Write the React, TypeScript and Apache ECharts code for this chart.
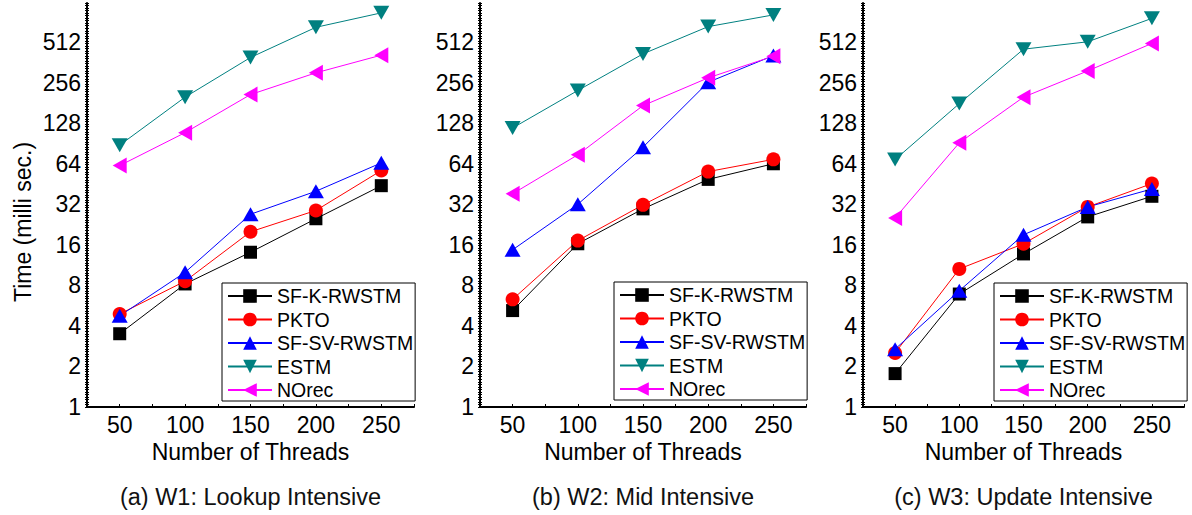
import React, { useEffect, useRef } from "react";
import * as echarts from "echarts";

// Thread counts on the x axis
const threads = [50, 100, 150, 200, 250];
const seriesNames = ["SF-K-RWSTM", "PKTO", "SF-SV-RWSTM", "ESTM", "NOrec"];
const xTicks = [50, 100, 150, 200, 250];
const yTickLabels = [1, 2, 4, 8, 16, 32, 64, 128, 256, 512];

// W1: Lookup Intensive (milli sec.)
const w1SfK = [3.5, 8.2, 14.1, 25, 44];
const w1Pkto = [4.9, 8.6, 20, 28.8, 57];
const w1SfSv = [4.75, 10, 27, 40, 65];
const w1Estm = [88, 200, 394, 660, 845];
const w1NOrec = [62, 109, 209, 303, 410];

// W2: Mid Intensive
const w2SfK = [5.2, 16.3, 29.6, 49, 64];
const w2Pkto = [6.3, 17.2, 31.7, 56, 69];
const w2SfSv = [14.7, 32, 85, 258, 407];
const w2Estm = [118, 224, 419, 668, 816];
const w2NOrec = [38.3, 74.6, 173, 278, 403];

// W3: Update Intensive
const w3SfK = [1.77, 6.9, 13.7, 25.8, 36.7];
const w3Pkto = [2.52, 10.6, 16.3, 30.6, 45.6];
const w3SfSv = [2.69, 7.3, 19, 30.6, 41.6];
const w3Estm = [68.8, 179, 454, 515, 769];
const w3NOrec = [25.3, 91.6, 200, 313, 501];

const panels = [
  [w1SfK, w1Pkto, w1SfSv, w1Estm, w1NOrec],
  [w2SfK, w2Pkto, w2SfSv, w2Estm, w2NOrec],
  [w3SfK, w3Pkto, w3SfSv, w3Estm, w3NOrec],
];
const captions = [
  "(a) W1: Lookup Intensive",
  "(b) W2: Mid Intensive",
  "(c) W3: Update Intensive",
];
const xTitle = "Number of Threads";
const yTitle = "Time (milli sec.)";

const FONT = "'Liberation Sans', Arial, Helvetica, sans-serif";

const markerStyles = [
  { color: "#000000", symbol: "rect", size: 13 },
  { color: "#ff0000", symbol: "circle", size: 14 },
  { color: "#0000ff", symbol: "triangle", size: [16, 14] },
  { color: "#008080", symbol: "path://M0,0L10,0L5,10Z", size: [16, 14] },
  { color: "#ff00ff", symbol: "path://M10,0L10,10L0,5Z", size: [14, 16] },
];

const grids = [
  { left: 87, top: 3, width: 327, height: 404 },
  { left: 480, top: 3, width: 326, height: 404 },
  { left: 863, top: 3, width: 321, height: 404 },
];
const legendPos = [
  { left: 222, top: 283 },
  { left: 614, top: 282 },
  { left: 994, top: 283 },
];

function isShownPow(v: number) {
  return yTickLabels.some((t) => Math.abs(t - v) < 1e-6);
}

function buildOption() {
  const xAxis: any[] = [];
  const yAxis: any[] = [];
  const series: any[] = [];
  const legend: any[] = [];
  const graphic: any[] = [];

  grids.forEach((g, p) => {
    xAxis.push({
      type: "value",
      gridIndex: p,
      min: 25,
      max: 275,
      interval: 25,
      axisLine: { lineStyle: { color: "#000", width: 2 } },
      axisTick: { inside: true, length: 3, lineStyle: { color: "#000", width: 1 } },
      axisLabel: {
        margin: 6,
        fontSize: 23,
        fontFamily: FONT,
        color: "#000",
        formatter: (v: number) => (xTicks.includes(v) ? String(v) : ""),
      },
      splitLine: { show: false },
      name: xTitle,
      nameLocation: "middle",
      nameGap: 31,
      nameTextStyle: { fontSize: 23, fontFamily: FONT, color: "#000" },
    });
    // main log2 axis
    yAxis.push({
      type: "log",
      logBase: 2,
      gridIndex: p,
      min: 1,
      max: 1000,
      splitNumber: 10,
      axisLine: { show: true, lineStyle: { color: "#000", width: 2 } },
      axisTick: { show: false },
      axisLabel: {
        margin: 6,
        fontSize: 23,
        fontFamily: FONT,
        color: "#000",
        formatter: (v: number) => (isShownPow(v) ? String(Math.round(v)) : ""),
      },
      splitLine: { show: false },
    });
    // fine tick ruler along the y axis (outer and inner side)
    [false, true].forEach((inside) => {
      yAxis.push({
        type: "value",
        gridIndex: p,
        position: "left",
        min: 0,
        max: 160,
        interval: 1,
        axisLine: { show: false },
        axisTick: { show: true, inside, length: 2, lineStyle: { color: "#000", width: 1 } },
        axisLabel: { show: false },
        splitLine: { show: false },
      });
    });

    panels[p].forEach((vals, i) => {
      const st = markerStyles[i];
      series.push({
        type: "line",
        name: seriesNames[i],
        xAxisIndex: p,
        yAxisIndex: p * 3,
        data: threads.map((t, k) => [t, vals[k]]),
        symbol: st.symbol,
        symbolSize: st.size,
        lineStyle: { color: st.color, width: 1 },
        itemStyle: { color: st.color },
        emphasis: { disabled: true },
      });
    });

    legend.push({
      ...legendPos[p],
      orient: "vertical",
      data: seriesNames,
      selectedMode: false,
      backgroundColor: "#fff",
      borderColor: "#000",
      borderWidth: 1,
      padding: [3, 2, 1, 5],
      itemWidth: 44,
      itemHeight: 17,
      itemGap: 3.5,
      textStyle: { fontSize: 19.5, lineHeight: 19, fontFamily: FONT, color: "#000" },
    });

    graphic.push({
      type: "text",
      x: g.left + g.width / 2,
      y: 497,
      style: {
        text: captions[p],
        fontSize: 23.5,
        fontFamily: FONT,
        fill: "#111",
        align: "center",
        verticalAlign: "middle",
        textAlign: "center",
        textVerticalAlign: "middle",
      },
    });
  });

  graphic.push({
    type: "text",
    x: 23,
    y: 222,
    rotation: Math.PI / 2,
    style: {
      text: yTitle,
      fontSize: 23,
      fontFamily: FONT,
      fill: "#000",
      align: "center",
      verticalAlign: "middle",
      textAlign: "center",
      textVerticalAlign: "middle",
    },
  });

  return {
    animation: false,
    backgroundColor: "#fff",
    textStyle: { fontFamily: FONT },
    grid: grids,
    xAxis,
    yAxis,
    legend,
    series,
    graphic,
  };
}

export default function App() {
  const ref = useRef<HTMLDivElement>(null);
  useEffect(() => {
    document.body.style.margin = "0";
    if (!ref.current) return;
    const chart = echarts.init(ref.current, undefined, { renderer: "svg" });
    chart.setOption(buildOption() as any);
    return () => chart.dispose();
  }, []);
  return (
    <div
      ref={ref}
      style={{ position: "absolute", left: 0, top: 0, width: 1192, height: 515, background: "#fff" }}
    />
  );
}
